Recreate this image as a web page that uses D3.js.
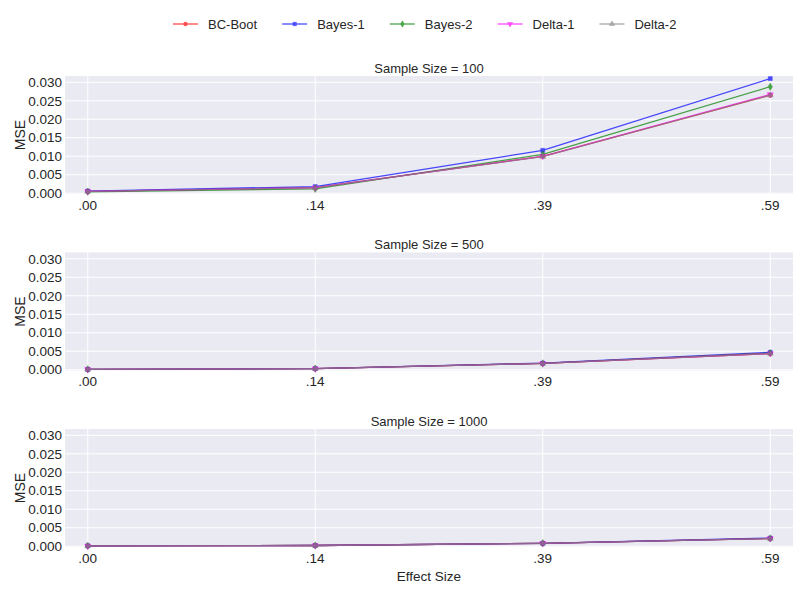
<!DOCTYPE html>
<html>
<head>
<meta charset="utf-8">
<script src="https://cdn.jsdelivr.net/npm/d3@7"></script>
<style>
  html, body { margin: 0; padding: 0; background: #fff; }
  svg { display: block; font-family: "Liberation Sans", Arial, sans-serif; }
</style>
</head>
<body>
<svg id="chart" width="801" height="592"></svg>
<script>
// Effect sizes on the x axis, one panel per sample size
const effectSizes = [".00", ".14", ".39", ".59"];
const sampleSizes = [100, 500, 1000];
const seriesNames = ["BC-Boot", "Bayes-1", "Bayes-2", "Delta-1", "Delta-2"];
const seriesColors = ["#ff0000", "#0000ff", "#008000", "#ff00ff", "#808080"];
const seriesMarkers = ["circle", "square", "diamond", "triangleDown", "triangle"];
const yTicks = [0, 0.005, 0.010, 0.015, 0.020, 0.025, 0.030];

// MSE per method: rows follow sampleSizes, columns follow effectSizes
const bcBoot = [
  [0.0005, 0.0015, 0.0100, 0.0265],
  [0.0001, 0.0003, 0.0017, 0.0044],
  [0.0001, 0.0002, 0.0008, 0.0021]
];
const bayes1 = [
  [0.0006, 0.0018, 0.0116, 0.0310],
  [0.0001, 0.0003, 0.0018, 0.0047],
  [0.0001, 0.0002, 0.0008, 0.0022]
];
const bayes2 = [
  [0.0004, 0.0012, 0.0105, 0.0288],
  [0.0001, 0.0003, 0.0017, 0.0045],
  [0.0001, 0.0002, 0.0008, 0.0021]
];
const delta1 = [
  [0.0005, 0.0015, 0.0100, 0.0267],
  [0.0001, 0.0003, 0.0017, 0.0044],
  [0.0001, 0.0002, 0.0008, 0.0021]
];
const delta2 = [
  [0.0005, 0.0015, 0.0099, 0.0265],
  [0.0001, 0.0003, 0.0017, 0.0044],
  [0.0001, 0.0002, 0.0008, 0.0021]
];
const seriesValues = [bcBoot, bayes1, bayes2, delta1, delta2];

const svg = d3.select("#chart");
const left = 65, right = 793, panelH = 118;
const panelTops = [76, 252.5, 429];
const textColor = "#262626";

const x = d3.scalePoint().domain(effectSizes).range([left, right]).padding(0.1);

const symbolTypes = {
  circle: d3.symbolCircle,
  square: d3.symbolSquare,
  diamond: d3.symbolDiamond,
  triangle: d3.symbolTriangle,
  triangleDown: d3.symbolTriangle
};
function marker(sel, kind, color, size) {
  sel.append("path")
    .attr("d", d3.symbol().type(symbolTypes[kind]).size(size))
    .attr("transform", kind === "triangleDown" ? "rotate(180)" : null)
    .attr("fill", color)
    .attr("stroke", color)
    .attr("stroke-width", 0.5);
}

sampleSizes.forEach((n, pi) => {
  const top = panelTops[pi];
  const y = d3.scaleLinear().domain([-0.0002, 0.0317]).range([top + panelH, top]);
  const g = svg.append("g");

  g.append("rect")
    .attr("x", left).attr("y", top)
    .attr("width", right - left).attr("height", panelH)
    .attr("fill", "#eaeaf2");

  // horizontal grid + y tick labels
  g.append("g").selectAll("line").data(yTicks).join("line")
    .attr("x1", left).attr("x2", right)
    .attr("y1", d => y(d)).attr("y2", d => y(d))
    .attr("stroke", "#fff").attr("stroke-width", 1);
  g.append("g").selectAll("text").data(yTicks).join("text")
    .attr("x", left - 3).attr("y", d => y(d))
    .attr("dy", "0.35em")
    .attr("text-anchor", "end")
    .attr("font-size", 13.5).attr("fill", textColor)
    .text(d3.format(".3f"));

  // vertical grid + x tick labels
  g.append("g").selectAll("line").data(effectSizes).join("line")
    .attr("x1", d => x(d)).attr("x2", d => x(d))
    .attr("y1", top).attr("y2", top + panelH)
    .attr("stroke", "#fff").attr("stroke-width", 1);
  g.append("g").selectAll("text").data(effectSizes).join("text")
    .attr("x", d => x(d)).attr("y", top + panelH + 11)
    .attr("dy", "0.35em")
    .attr("text-anchor", "middle")
    .attr("font-size", 13.5).attr("fill", textColor)
    .text(d => d);

  g.append("text")
    .attr("x", (left + right) / 2).attr("y", top - 8)
    .attr("dy", "0.35em")
    .attr("text-anchor", "middle")
    .attr("font-size", 13).attr("fill", textColor)
    .text("Sample Size = " + n);

  g.append("text")
    .attr("transform", `translate(20,${top + panelH / 2}) rotate(-90)`)
    .attr("dy", "0.35em")
    .attr("text-anchor", "middle")
    .attr("font-size", 14).attr("fill", textColor)
    .text("MSE");

  const line = d3.line().x((d, i) => x(effectSizes[i])).y(d => y(d));

  seriesNames.forEach((name, si) => {
    const vals = seriesValues[si][pi];
    const sg = g.append("g").attr("opacity", 0.7);
    sg.append("path")
      .attr("d", line(vals))
      .attr("fill", "none")
      .attr("stroke", seriesColors[si])
      .attr("stroke-width", 1.3);
    vals.forEach((v, i) => {
      const mg = sg.append("g").attr("transform", `translate(${x(effectSizes[i])},${y(v)})`);
      marker(mg, seriesMarkers[si], seriesColors[si], 16);
    });
  });
});

svg.append("text")
  .attr("x", (left + right) / 2).attr("y", 576)
  .attr("dy", "0.35em")
  .attr("text-anchor", "middle")
  .attr("font-size", 13.5).attr("fill", textColor)
  .text("Effect Size");

// legend row
const legend = svg.append("g");
let lx = 173;
seriesNames.forEach((name, si) => {
  const item = legend.append("g").attr("transform", `translate(${lx},24)`);
  const ig = item.append("g").attr("opacity", 0.7);
  ig.append("line").attr("x1", 0).attr("x2", 25).attr("y1", 0).attr("y2", 0)
    .attr("stroke", seriesColors[si]).attr("stroke-width", 1.3);
  const mg = ig.append("g").attr("transform", "translate(12.5,0)");
  marker(mg, seriesMarkers[si], seriesColors[si], 12);
  const t = item.append("text")
    .attr("x", 35).attr("dy", "0.35em")
    .attr("font-size", 13).attr("fill", textColor)
    .text(name);
  lx += 35 + t.node().getComputedTextLength() + 25;
});
</script>
</body>
</html>
